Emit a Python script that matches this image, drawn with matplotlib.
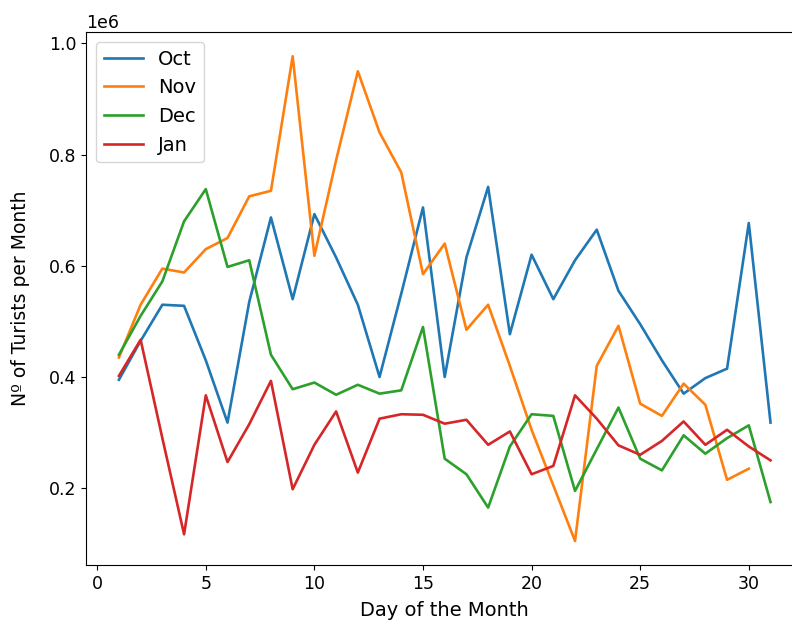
import matplotlib
matplotlib.use("Agg")
import matplotlib.pyplot as plt

oct_vals = [0.395, 0.465, 0.53, 0.528, 0.43, 0.318, 0.535, 0.687, 0.54, 0.693,
            0.615, 0.53, 0.40, 0.55, 0.705, 0.40, 0.615, 0.742, 0.477, 0.62,
            0.54, 0.61, 0.665, 0.555, 0.495, 0.43, 0.37, 0.398, 0.415, 0.677, 0.318]
nov_vals = [0.435, 0.53, 0.595, 0.588, 0.63, 0.65, 0.725, 0.735, 0.977, 0.618,
            0.79, 0.95, 0.84, 0.768, 0.585, 0.64, 0.485, 0.53, 0.42, 0.305,
            0.205, 0.105, 0.42, 0.492, 0.352, 0.33, 0.388, 0.35, 0.215, 0.235]
dec_vals = [0.44, 0.51, 0.572, 0.68, 0.738, 0.598, 0.61, 0.44, 0.378, 0.39,
            0.368, 0.386, 0.37, 0.376, 0.49, 0.253, 0.225, 0.165, 0.275, 0.333,
            0.33, 0.195, 0.27, 0.345, 0.253, 0.232, 0.295, 0.262, 0.29, 0.313, 0.175]
jan_vals = [0.402, 0.467, 0.29, 0.117, 0.367, 0.247, 0.315, 0.393, 0.198, 0.278,
            0.338, 0.228, 0.325, 0.333, 0.332, 0.316, 0.323, 0.278, 0.302, 0.225,
            0.24, 0.367, 0.325, 0.277, 0.26, 0.285, 0.32, 0.278, 0.305, 0.275, 0.25]

months = {'Oct': oct_vals, 'Nov': nov_vals, 'Dec': dec_vals, 'Jan': jan_vals}

plt.rcParams['font.size'] = 12.5
fig = plt.figure(figsize=(7.92, 6.28), dpi=100)
# the reference is cropped a little on the right, so the axes run past the edge
ax = fig.add_axes([0.109, 0.1, 0.905, 0.849])

for name, vals in months.items():
    days = list(range(1, len(vals) + 1))
    ax.plot(days, [v * 1e6 for v in vals], label=name, linewidth=1.9)

ax.set_xlabel('Day of the Month', fontsize=14, labelpad=6)
ax.set_ylabel('Nº of Turists per Month', fontsize=13.5, labelpad=14)
ax.legend(loc='upper left', fontsize=14)

fig.savefig('out.png')
